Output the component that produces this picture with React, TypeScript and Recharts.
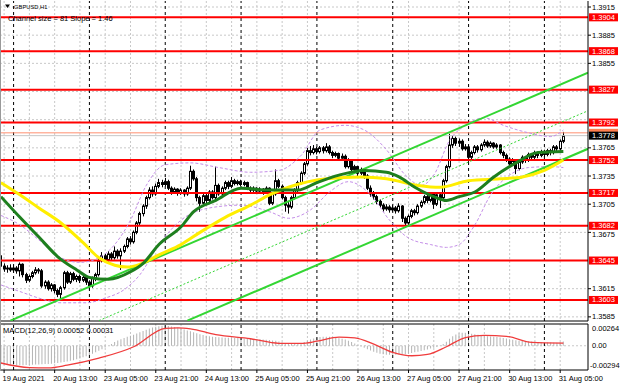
//
// GBPUSD H1 chart with channel, MAs, bands and MACD
//
import React from 'react';
import {
  Bar,
  CartesianGrid,
  ComposedChart,
  Line,
  ReferenceLine,
  XAxis,
  YAxis,
} from 'recharts';

const FONT = '"Liberation Sans", Arial, sans-serif';
const FS = 7.5;

// candles [open, high, low, close], one array per trading day
const aug19 = [
  [1.3650, 1.3652, 1.3637, 1.3639], [1.3639, 1.3642, 1.3633, 1.3636], [1.3636, 1.3640, 1.3632, 1.3637], [1.3637, 1.3641, 1.3633, 1.3635],
];
const aug20 = [
  [1.3635, 1.3640, 1.3632, 1.3637], [1.3637, 1.3639, 1.3631, 1.3634], [1.3634, 1.3643, 1.3628, 1.3641], [1.3641, 1.3642, 1.3627, 1.3630],
  [1.3630, 1.3632, 1.3621, 1.3624], [1.3624, 1.3630, 1.3622, 1.3628], [1.3628, 1.3634, 1.3626, 1.3632], [1.3632, 1.3638, 1.3630, 1.3635],
  [1.3635, 1.3637, 1.3631, 1.3634], [1.3634, 1.3636, 1.3616, 1.3618], [1.3618, 1.3624, 1.3615, 1.3622], [1.3622, 1.3624, 1.3613, 1.3615],
  [1.3615, 1.3621, 1.3612, 1.3619], [1.3619, 1.3620, 1.3610, 1.3613], [1.3613, 1.3615, 1.3606, 1.3609], [1.3609, 1.3618, 1.3604, 1.3616],
  [1.3616, 1.3634, 1.3614, 1.3632], [1.3632, 1.3634, 1.3620, 1.3622], [1.3622, 1.3633, 1.3620, 1.3631], [1.3631, 1.3633, 1.3623, 1.3625],
  [1.3625, 1.3630, 1.3622, 1.3628], [1.3628, 1.3630, 1.3621, 1.3624], [1.3624, 1.3629, 1.3622, 1.3627], [1.3627, 1.3628, 1.3619, 1.3622],
];
const aug23 = [
  [1.3622, 1.3624, 1.3613, 1.3618], [1.3618, 1.3628, 1.3616, 1.3626], [1.3626, 1.3632, 1.3623, 1.3630], [1.3630, 1.3647, 1.3628, 1.3645],
  [1.3645, 1.3654, 1.3643, 1.3650], [1.3650, 1.3652, 1.3643, 1.3646], [1.3646, 1.3655, 1.3644, 1.3652], [1.3652, 1.3654, 1.3645, 1.3648],
  [1.3648, 1.3660, 1.3646, 1.3655], [1.3655, 1.3657, 1.3647, 1.3650], [1.3650, 1.3658, 1.3635, 1.3655], [1.3655, 1.3662, 1.3653, 1.3660],
  [1.3660, 1.3670, 1.3658, 1.3668], [1.3668, 1.3671, 1.3662, 1.3665], [1.3665, 1.3677, 1.3663, 1.3675], [1.3675, 1.3687, 1.3673, 1.3685],
  [1.3685, 1.3697, 1.3682, 1.3695], [1.3695, 1.3705, 1.3692, 1.3703], [1.3703, 1.3714, 1.3700, 1.3712], [1.3712, 1.3723, 1.3710, 1.3720],
  [1.3720, 1.3724, 1.3713, 1.3716], [1.3716, 1.3727, 1.3714, 1.3724], [1.3724, 1.3732, 1.3722, 1.3728], [1.3728, 1.3731, 1.3723, 1.3726],
];
const aug24 = [
  [1.3726, 1.3733, 1.3724, 1.3729], [1.3729, 1.3731, 1.3720, 1.3722], [1.3722, 1.3724, 1.3715, 1.3718], [1.3718, 1.3723, 1.3716, 1.3721],
  [1.3721, 1.3722, 1.3714, 1.3717], [1.3717, 1.3722, 1.3715, 1.3720], [1.3720, 1.3721, 1.3713, 1.3716], [1.3716, 1.3724, 1.3714, 1.3722],
  [1.3722, 1.3746, 1.3720, 1.3740], [1.3740, 1.3742, 1.3730, 1.3732], [1.3732, 1.3734, 1.3708, 1.3712], [1.3712, 1.3714, 1.3697, 1.3706],
  [1.3706, 1.3716, 1.3704, 1.3714], [1.3714, 1.3716, 1.3706, 1.3709], [1.3709, 1.3720, 1.3707, 1.3718], [1.3718, 1.3720, 1.3710, 1.3712],
  [1.3712, 1.3745, 1.3710, 1.3725], [1.3725, 1.3727, 1.3714, 1.3716], [1.3716, 1.3724, 1.3714, 1.3722], [1.3722, 1.3730, 1.3720, 1.3728],
  [1.3728, 1.3730, 1.3721, 1.3724], [1.3724, 1.3734, 1.3722, 1.3730], [1.3730, 1.3732, 1.3725, 1.3727], [1.3727, 1.3731, 1.3725, 1.3729],
];
const aug25 = [
  [1.3729, 1.3731, 1.3724, 1.3726], [1.3726, 1.3730, 1.3724, 1.3728], [1.3728, 1.3729, 1.3720, 1.3722], [1.3722, 1.3724, 1.3718, 1.3720],
  [1.3720, 1.3724, 1.3718, 1.3722], [1.3722, 1.3723, 1.3716, 1.3719], [1.3719, 1.3723, 1.3717, 1.3721], [1.3721, 1.3722, 1.3715, 1.3718],
  [1.3718, 1.3724, 1.3716, 1.3722], [1.3722, 1.3723, 1.3704, 1.3706], [1.3706, 1.3718, 1.3704, 1.3716], [1.3716, 1.3742, 1.3714, 1.3730],
  [1.3730, 1.3732, 1.3722, 1.3724], [1.3724, 1.3726, 1.3710, 1.3712], [1.3712, 1.3714, 1.3697, 1.3704], [1.3704, 1.3708, 1.3695, 1.3702],
  [1.3702, 1.3714, 1.3700, 1.3712], [1.3712, 1.3722, 1.3710, 1.3720], [1.3720, 1.3730, 1.3718, 1.3728], [1.3728, 1.3740, 1.3726, 1.3738],
  [1.3738, 1.3750, 1.3736, 1.3748], [1.3748, 1.3765, 1.3746, 1.3762], [1.3762, 1.3767, 1.3757, 1.3760], [1.3760, 1.3768, 1.3758, 1.3764],
];
const aug26 = [
  [1.3764, 1.3766, 1.3758, 1.3761], [1.3761, 1.3767, 1.3759, 1.3765], [1.3765, 1.3767, 1.3759, 1.3762], [1.3762, 1.3770, 1.3760, 1.3766],
  [1.3766, 1.3768, 1.3758, 1.3760], [1.3760, 1.3762, 1.3754, 1.3757], [1.3757, 1.3761, 1.3755, 1.3759], [1.3759, 1.3760, 1.3751, 1.3754],
  [1.3754, 1.3759, 1.3752, 1.3756], [1.3756, 1.3758, 1.3743, 1.3745], [1.3745, 1.3754, 1.3743, 1.3752], [1.3752, 1.3753, 1.3740, 1.3742],
  [1.3742, 1.3747, 1.3740, 1.3745], [1.3745, 1.3746, 1.3735, 1.3738], [1.3738, 1.3744, 1.3736, 1.3742], [1.3742, 1.3743, 1.3732, 1.3735],
  [1.3735, 1.3737, 1.3720, 1.3722], [1.3722, 1.3725, 1.3713, 1.3716], [1.3716, 1.3719, 1.3710, 1.3713], [1.3713, 1.3715, 1.3705, 1.3708],
  [1.3708, 1.3710, 1.3701, 1.3704], [1.3704, 1.3706, 1.3697, 1.3700], [1.3700, 1.3705, 1.3698, 1.3702], [1.3702, 1.3704, 1.3696, 1.3699],
];
const aug27 = [
  [1.3699, 1.3704, 1.3697, 1.3701], [1.3701, 1.3703, 1.3695, 1.3698], [1.3698, 1.3706, 1.3696, 1.3703], [1.3703, 1.3704, 1.3686, 1.3690],
  [1.3690, 1.3692, 1.3680, 1.3685], [1.3685, 1.3694, 1.3683, 1.3692], [1.3692, 1.3700, 1.3690, 1.3698], [1.3698, 1.3700, 1.3693, 1.3696],
  [1.3696, 1.3705, 1.3694, 1.3703], [1.3703, 1.3709, 1.3701, 1.3707], [1.3707, 1.3715, 1.3705, 1.3713], [1.3713, 1.3715, 1.3706, 1.3709],
  [1.3709, 1.3718, 1.3707, 1.3716], [1.3716, 1.3717, 1.3700, 1.3705], [1.3705, 1.3717, 1.3703, 1.3715], [1.3715, 1.3717, 1.3701, 1.3712],
  [1.3712, 1.3732, 1.3710, 1.3730], [1.3730, 1.3747, 1.3728, 1.3745], [1.3745, 1.3780, 1.3743, 1.3768], [1.3768, 1.3778, 1.3765, 1.3775],
  [1.3775, 1.3777, 1.3767, 1.3770], [1.3770, 1.3775, 1.3766, 1.3772], [1.3772, 1.3774, 1.3762, 1.3764], [1.3764, 1.3769, 1.3762, 1.3766],
];
const aug30 = [
  [1.3766, 1.3768, 1.3750, 1.3755], [1.3755, 1.3762, 1.3753, 1.3760], [1.3760, 1.3768, 1.3758, 1.3766], [1.3766, 1.3768, 1.3760, 1.3763],
  [1.3763, 1.3770, 1.3761, 1.3768], [1.3768, 1.3774, 1.3766, 1.3771], [1.3771, 1.3773, 1.3765, 1.3767], [1.3767, 1.3772, 1.3765, 1.3770],
  [1.3770, 1.3771, 1.3764, 1.3766], [1.3766, 1.3770, 1.3764, 1.3768], [1.3768, 1.3769, 1.3758, 1.3760], [1.3760, 1.3762, 1.3754, 1.3757],
  [1.3757, 1.3759, 1.3750, 1.3753], [1.3753, 1.3755, 1.3745, 1.3748], [1.3748, 1.3754, 1.3746, 1.3751], [1.3751, 1.3752, 1.3737, 1.3743],
  [1.3743, 1.3752, 1.3741, 1.3750], [1.3750, 1.3757, 1.3748, 1.3755], [1.3755, 1.3756, 1.3749, 1.3752], [1.3752, 1.3760, 1.3750, 1.3758],
  [1.3758, 1.3759, 1.3752, 1.3755], [1.3755, 1.3762, 1.3753, 1.3760], [1.3760, 1.3761, 1.3754, 1.3757], [1.3757, 1.3763, 1.3755, 1.3761],
];
const aug31 = [
  [1.3761, 1.3763, 1.3755, 1.3758], [1.3758, 1.3764, 1.3756, 1.3762], [1.3762, 1.3764, 1.3757, 1.3760], [1.3760, 1.3768, 1.3758, 1.3766],
  [1.3766, 1.3768, 1.3761, 1.3764], [1.3764, 1.3774, 1.3762, 1.3772], [1.3772, 1.3782, 1.3770, 1.3778],
];

// moving averages and bands, read at [bar index, price]
const fastMa = [
  [0, 1.3713], [6, 1.3691], [12, 1.3670], [18, 1.3649], [24, 1.3635], [28, 1.3627], [34, 1.3625], [41, 1.3633],
  [45, 1.3642], [50, 1.3662], [57, 1.3681], [61, 1.3697], [68, 1.3709], [76, 1.3722], [85, 1.3720], [94, 1.3720],
  [100, 1.3728], [107, 1.3736], [115, 1.3741], [122, 1.3739], [126, 1.3734], [131, 1.3723], [137, 1.3713], [141, 1.3709],
  [145, 1.3713], [150, 1.3718], [156, 1.3734], [163, 1.3749], [170, 1.3760], [178, 1.3761],
];
const slowMa = [
  [0, 1.3728], [6, 1.3715], [12, 1.3701], [19, 1.3685], [26, 1.3664], [31, 1.3648], [36, 1.3640], [40, 1.3638],
  [44, 1.3641], [50, 1.3651], [57, 1.3662], [63, 1.3675], [71, 1.3691], [79, 1.3704], [85, 1.3715], [91, 1.3723],
  [103, 1.3732], [114, 1.3734], [122, 1.3732], [132, 1.3725], [139, 1.3723], [148, 1.3730], [158, 1.3732], [165, 1.3734],
  [172, 1.3741], [178, 1.3752],
];
const bandUpper = [
  [0, 1.3693], [6, 1.3683], [12, 1.3667], [19, 1.3648], [25, 1.3643], [31, 1.3648], [36, 1.3662], [41, 1.3688],
  [46, 1.3725], [52, 1.3747], [60, 1.3749], [69, 1.3744], [79, 1.3739], [88, 1.3741], [95, 1.3757], [101, 1.3784],
  [109, 1.3789], [115, 1.3784], [122, 1.3763], [128, 1.3736], [133, 1.3725], [137, 1.3736], [142, 1.3773], [147, 1.3789],
  [153, 1.3797], [159, 1.3789], [167, 1.3781], [174, 1.3777], [178, 1.3784],
];
const bandLower = [
  [0, 1.3619], [6, 1.3612], [12, 1.3605], [19, 1.3600], [27, 1.3600], [33, 1.3605], [39, 1.3614], [44, 1.3630],
  [50, 1.3662], [57, 1.3688], [66, 1.3701], [76, 1.3704], [85, 1.3697], [91, 1.3690], [98, 1.3699], [104, 1.3718],
  [110, 1.3729], [117, 1.3715], [123, 1.3688], [129, 1.3669], [136, 1.3662], [141, 1.3659], [145, 1.3662], [150, 1.3683],
  [155, 1.3715], [161, 1.3736], [167, 1.3744], [174, 1.3745], [178, 1.3744],
];

// regression channel ends [bar index, price]
const channelTop = [[3, 1.3581], [185.8, 1.3845]];
const channelMid = [[31, 1.3581], [185.8, 1.38045]];
const channelBottom = [[59, 1.3581], [185.8, 1.3764]];

// MACD main per bar, in 1e-5
const macdMain = [
  -225, -228, -231, -233, -235, -236, -236, -235, -234, -232,
  -230, -228, -226, -224, -222, -220, -217, -213, -208, -203,
  -196, -190, -182, -175, -165, -153, -140, -126, -112, -97,
  -80, -60, -42, -20, 0, 22, 45, 65, 80, 95,
  108, 120, 135, 150, 165, 180, 195, 210, 222, 232,
  238, 242, 243, 240, 235, 228, 220, 210, 198, 186,
  175, 165, 152, 140, 130, 122, 116, 110, 106, 103,
  100, 98, 97, 96, 95, 93, 90, 88, 86, 84,
  82, 80, 78, 76, 74, 70, 65, 60, 52, 42,
  32, 24, 20, 20, 24, 32, 45, 60, 75, 88,
  98, 105, 109, 110, 108, 104, 98, 92, 84, 75,
  62, 46, 28, 10, -8, -25, -42, -58, -72, -85,
  -96, -104, -108, -110, -110, -109, -106, -104, -102, -96,
  -88, -80, -72, -64, -54, -44, -34, -24, -14, -2,
  20, 48, 85, 115, 138, 152, 158, 157, 152, 146,
  140, 134, 128, 122, 116, 112, 110, 106, 100, 94,
  88, 80, 74, 66, 62, 58, 55, 53, 51, 49,
  47, 45, 43, 41, 39, 38, 38, 42, 52,
];
// MACD signal [bar index, value in 1e-5]
const macdSignal = [
  [0, -209], [9, -265], [15, -268], [21, -235], [31, -150], [42, -12], [52, 212], [56, 218], [60, 205],
  [68, 135], [79, 85], [88, 30], [95, 28], [100, 55], [107, 105], [112, 95], [118, 20], [124, -80],
  [130, -121], [135, -105], [141, -12], [147, 100], [153, 125], [160, 115], [168, 40], [178, 31],
];

const levels = [1.3904, 1.3868, 1.3827, 1.3792, 1.3752, 1.3717, 1.3682, 1.3645, 1.3603];
const gridPrices = [1.3915, 1.3885, 1.3855, 1.3825, 1.3795, 1.3765, 1.3735, 1.3705, 1.3675, 1.3645, 1.3615, 1.3585];
const priceLabels = [1.3915, 1.3885, 1.3855, 1.3765, 1.3735, 1.3705, 1.3675, 1.3615, 1.3585];
const askPrice = 1.3781;
const bidPrice = 1.3778;

const timeLabels = ['19 Aug 2021', '20 Aug 13:00', '23 Aug 05:00', '23 Aug 21:00', '24 Aug 13:00', '25 Aug 05:00',
  '25 Aug 21:00', '26 Aug 13:00', '27 Aug 05:00', '27 Aug 21:00', '30 Aug 13:00', '31 Aug 05:00'];
const labelBars = [1, 17, 33, 49, 65, 81, 97, 113, 129, 145, 161, 177];
const gridBars = [1, 9, 17, 25, 33, 41, 49, 57, 65, 73, 81, 89, 97, 105, 113, 121, 129, 137, 145, 153, 161, 169, 177];
const daySeparators = [4, 28, 52, 76, 100, 124, 148, 172];

const PRICE_MIN = 1.35806;
const PRICE_MAX = 1.39214;
const MACD_MIN = -0.00294;
const MACD_MAX = 0.00264;
const BAR_DOMAIN = [-0.3, 185.8];

const candles = [...aug19, ...aug20, ...aug23, ...aug24, ...aug25, ...aug26, ...aug27, ...aug30, ...aug31];

const pick = (pts: number[][], i: number) => {
  const p = pts.find((q) => q[0] === i);
  return p ? p[1] : null;
};

const rows = candles.map((c, i) => {
  const sig = pick(macdSignal, i);
  return {
    i,
    open: c[0],
    high: c[1],
    low: c[2],
    close: c[3],
    range: [c[2], c[1]],
    fast: pick(fastMa, i),
    slow: pick(slowMa, i),
    bandUp: pick(bandUpper, i),
    bandDn: pick(bandLower, i),
    macd: macdMain[i] / 1e5,
    signal: sig === null ? null : sig / 1e5,
  };
});

const textProps = { fontSize: FS, fontFamily: FONT, dominantBaseline: 'central' as const };

// candle body + wick inside the bar's high-low box
const Candle = (props: any) => {
  const { x, y, width, height, payload } = props;
  if (!payload) return null;
  const top = Math.min(y, y + height);
  const bottom = Math.max(y, y + height);
  const span = payload.high - payload.low || 1e-9;
  const yAt = (v: number) => top + ((payload.high - v) / span) * (bottom - top);
  const cx = Math.floor(x + width / 2) + 0.5;
  const bTop = yAt(Math.max(payload.open, payload.close));
  const bBot = yAt(Math.min(payload.open, payload.close));
  const up = payload.close >= payload.open;
  return (
    <g>
      <line x1={cx} x2={cx} y1={top} y2={bottom} stroke="#000" strokeWidth={1} />
      <rect x={cx - 1} y={bTop} width={2} height={Math.max(bBot - bTop, 0.8)}
        fill={up ? '#fff' : '#000'} stroke="#000" strokeWidth={1} />
    </g>
  );
};

const renderPriceTick = (props: any) => {
  const { x, y, payload } = props;
  const v: number = payload.value;
  const ax = x - 5;
  const label = v.toFixed(4);
  // orange ask box peeks out above the black bid box
  if (v === askPrice) {
    return <rect x={ax + 1} y={y - 4} width={29} height={8} fill="#ff7f50" />;
  }
  let box: string | null = null;
  if (levels.includes(v)) box = '#ff0000';
  if (v === bidPrice) box = '#000';
  if (box) {
    return (
      <g>
        <rect x={ax + 1} y={y - 4} width={29} height={8} fill={box} />
        <text x={ax + 4} y={y} fill="#fff" {...textProps}>{label}</text>
      </g>
    );
  }
  // nudge plain labels off a nearby level box
  const near = levels.find((l) => Math.abs(l - v) < 0.0009);
  const ty = near === undefined ? y : y + (v < near ? 2 : -2);
  return (
    <g>
      <line x1={ax} x2={ax + 3} y1={y} y2={y} stroke="#000" />
      <text x={ax + 4} y={ty} fill="#000" {...textProps}>{label}</text>
    </g>
  );
};

const renderMacdTick = (props: any) => {
  const { x, y, payload } = props;
  const v: number = payload.value;
  const ax = x - 5;
  let ty = y;
  if (v === MACD_MAX) ty = y + 4.5;
  if (v === MACD_MIN) ty = y - 5;
  const label = v === 0 ? '0.00' : v.toFixed(5);
  return <text x={v < 0 ? ax + 2 : ax + 4} y={ty} fill="#000" {...textProps}>{label}</text>;
};

const renderTimeTick = (props: any) => {
  const { x, y, payload } = props;
  const idx = labelBars.indexOf(payload.value);
  const ay = y - 5;
  return (
    <g>
      <line x1={x} x2={x} y1={ay} y2={ay + 3} stroke="#000" />
      <text x={x - 1.5} y={ay + 8.5} fill="#000" textAnchor="start" {...textProps}>{timeLabels[idx]}</text>
    </g>
  );
};

const seg = (pts: number[][]) => pts.map((p) => ({ x: p[0], y: p[1] }));

export default function App() {
  return (
    <div style={{ position: 'absolute', left: 0, top: 0, width: 620, height: 388, background: '#fff', overflow: 'hidden' }}>
      <div style={{ position: 'absolute', left: 0, top: 0 }}>
        <ComposedChart width={620} height={322} data={rows} margin={{ top: 1, right: 0, bottom: 1, left: 0 }}>
          <CartesianGrid stroke="#c8c8c8" strokeDasharray="2 2" horizontalValues={gridPrices} verticalValues={gridBars} />
          <XAxis type="number" dataKey="i" domain={BAR_DOMAIN} allowDataOverflow hide />
          <YAxis
            orientation="right"
            width={32}
            domain={[PRICE_MIN, PRICE_MAX]}
            allowDataOverflow
            ticks={[...priceLabels, ...levels, askPrice, bidPrice]}
            interval={0}
            tick={renderPriceTick}
            tickLine={false}
            tickSize={3}
            tickMargin={2}
            axisLine={{ stroke: '#000' }}
          />
          {daySeparators.map((d) => (
            <ReferenceLine key={'d' + d} x={d} stroke="#000" strokeDasharray="3 3" />
          ))}
          {levels.map((l) => (
            <ReferenceLine key={'l' + l} y={l} stroke="#ff0000" strokeWidth={2} />
          ))}
          <ReferenceLine y={askPrice} stroke="#ff9070" />
          <ReferenceLine y={bidPrice} stroke="#c8c8c8" />
          <ReferenceLine y={PRICE_MIN} stroke="#000" ifOverflow="visible" />
          <Line dataKey="bandUp" type="monotone" stroke="#c48ee8" strokeDasharray="3 2" strokeWidth={1} dot={false} connectNulls isAnimationActive={false} />
          <Line dataKey="bandDn" type="monotone" stroke="#c48ee8" strokeDasharray="3 2" strokeWidth={1} dot={false} connectNulls isAnimationActive={false} />
          <ReferenceLine segment={seg(channelTop)} stroke="#33d633" strokeWidth={2} ifOverflow="hidden" />
          <ReferenceLine segment={seg(channelMid)} stroke="#33d633" strokeDasharray="2 2" strokeWidth={1} ifOverflow="hidden" />
          <ReferenceLine segment={seg(channelBottom)} stroke="#33d633" strokeWidth={2} ifOverflow="hidden" />
          <Bar dataKey="range" barSize={3} shape={Candle} isAnimationActive={false} />
          <Line dataKey="slow" type="monotone" stroke="#ffee00" strokeWidth={3} dot={false} connectNulls isAnimationActive={false} />
          <Line dataKey="fast" type="monotone" stroke="#1e7f1e" strokeWidth={3} dot={false} connectNulls isAnimationActive={false} />
        </ComposedChart>
      </div>
      <div style={{ position: 'absolute', left: 0, top: 322 }}>
        <ComposedChart width={620} height={66} data={rows} margin={{ top: 2, right: 0, bottom: 0, left: 0 }}>
          <CartesianGrid stroke="#c8c8c8" strokeDasharray="2 2" horizontalValues={[0]} verticalValues={gridBars} />
          <XAxis
            type="number"
            dataKey="i"
            domain={BAR_DOMAIN}
            allowDataOverflow
            ticks={labelBars}
            interval={0}
            tick={renderTimeTick}
            tickLine={false}
            tickSize={3}
            tickMargin={2}
            height={18}
            axisLine={{ stroke: '#000' }}
          />
          <YAxis
            orientation="right"
            width={32}
            domain={[MACD_MIN, MACD_MAX]}
            allowDataOverflow
            ticks={[MACD_MAX, 0, MACD_MIN]}
            interval={0}
            tick={renderMacdTick}
            tickLine={false}
            tickSize={3}
            tickMargin={2}
            axisLine={{ stroke: '#000' }}
          />
          {daySeparators.map((d) => (
            <ReferenceLine key={'m' + d} x={d} stroke="#000" strokeDasharray="3 3" />
          ))}
          <ReferenceLine y={MACD_MAX} stroke="#000" ifOverflow="visible" />
          <Bar dataKey="macd" fill="#b4b4b4" barSize={1} isAnimationActive={false} />
          <Line dataKey="signal" type="monotone" stroke="#f03c3c" strokeWidth={1.3} dot={false} connectNulls isAnimationActive={false} />
        </ComposedChart>
      </div>
      <svg width={620} height={388} style={{ position: 'absolute', left: 0, top: 0, pointerEvents: 'none' }}>
        <line x1={0.5} x2={0.5} y1={0} y2={371} stroke="#999" />
        <path d="M5,4.5 L10,4.5 L7.5,8 Z" fill="#000" />
        <text x={14} y={6.5} fill="#000" {...textProps} fontSize={5.8}>GBPUSD,H1</text>
        <text x={8} y={18.5} fill="#000" {...textProps}>Channel size = 81 Slope = 1.46</text>
        <text x={3} y={330} fill="#000" {...textProps}>MACD(12,26,9) 0.00052 0.00031</text>
      </svg>
    </div>
  );
}
